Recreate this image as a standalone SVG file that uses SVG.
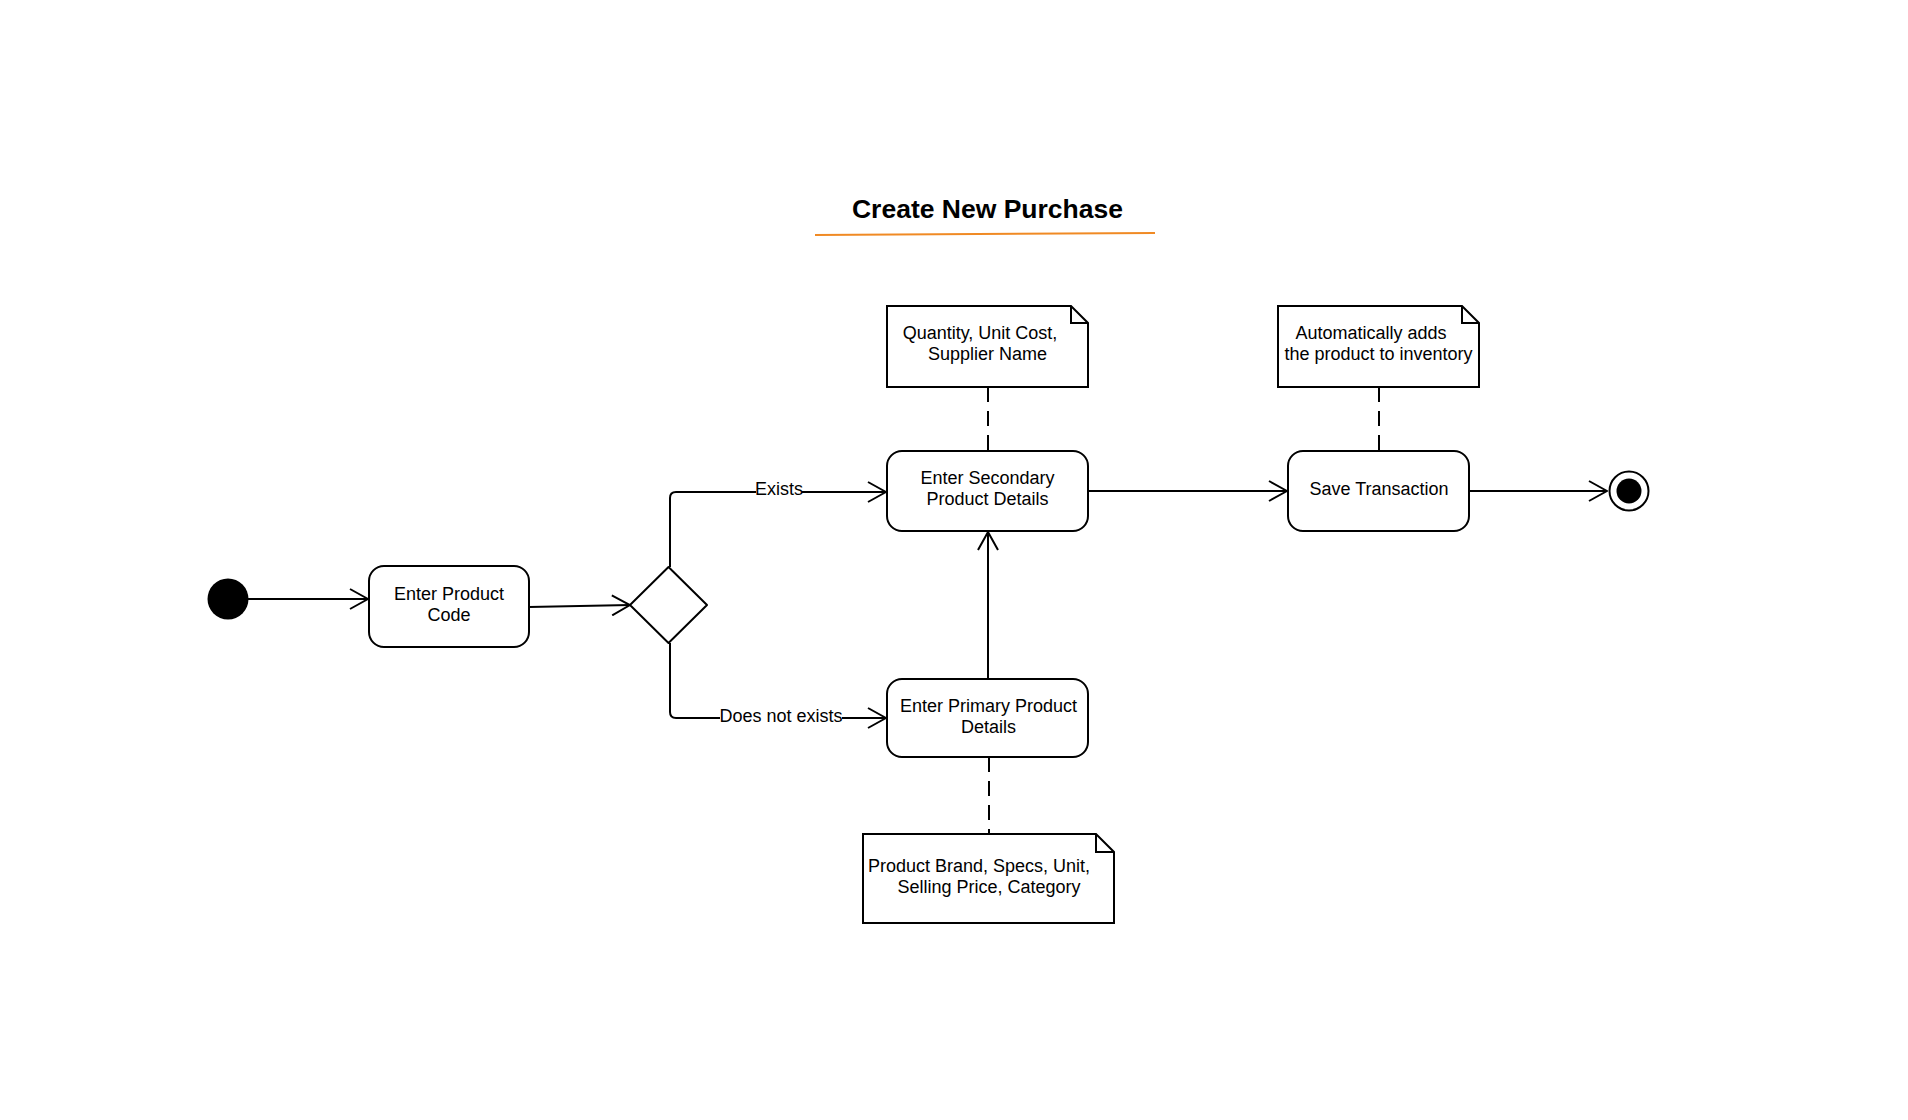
<svg xmlns="http://www.w3.org/2000/svg" width="1908" height="1120" viewBox="0 0 1908 1120">
<style>
.box{fill:#fff;stroke:#000;stroke-width:2}
.t{font-family:"Liberation Sans",Arial,sans-serif;font-size:18px;fill:#000;text-anchor:middle}
.edge{fill:none;stroke:#000;stroke-width:2}
.dash{fill:none;stroke:#000;stroke-width:2;stroke-dasharray:15 9}
</style>
<defs>
<marker id="arr" viewBox="0 0 20 22" refX="19" refY="11" markerWidth="20" markerHeight="22" markerUnits="userSpaceOnUse" orient="auto">
<path d="M1,1 L19,11 L1,21" fill="none" stroke="#000" stroke-width="2"/>
</marker>
</defs>
<rect width="1908" height="1120" fill="#fff"/>
<g id="title">
<text x="987.5" y="218" style="font-family:'Liberation Sans',Arial,sans-serif;font-size:26.5px;font-weight:bold;text-anchor:middle">Create New Purchase</text>
<line x1="815" y1="235" x2="1155" y2="233" stroke="#F08A24" stroke-width="2"/>
</g>
<g id="connectors">
<line class="edge" x1="248" y1="599" x2="368" y2="599" marker-end="url(#arr)"/>
<line class="edge" x1="529" y1="607" x2="630" y2="605" marker-end="url(#arr)"/>
<path class="edge" d="M670,567 V498 Q670,492 676,492 H886" marker-end="url(#arr)"/>
<path class="edge" d="M670,643 V712 Q670,718 676,718 H886" marker-end="url(#arr)"/>
<line class="edge" x1="988" y1="679" x2="988" y2="532" marker-end="url(#arr)"/>
<line class="edge" x1="1088" y1="491" x2="1287" y2="491" marker-end="url(#arr)"/>
<line class="edge" x1="1469" y1="491" x2="1607" y2="491" marker-end="url(#arr)"/>
<line class="dash" x1="988" y1="387" x2="988" y2="451"/>
<line class="dash" x1="1379" y1="387" x2="1379" y2="451"/>
<line class="dash" x1="989" y1="757" x2="989" y2="834"/>
<rect x="756" y="481" width="46" height="20" fill="#fff"/>
<text class="t" x="779" y="494.5">Exists</text>
<rect x="720" y="707" width="122" height="20" fill="#fff"/>
<text class="t" x="781" y="721.5">Does not exists</text>
</g>
<g id="start">
<circle cx="228" cy="599" r="20.5" fill="#000"/>
</g>
<g id="enter-product-code">
<rect class="box" x="369" y="566" width="160" height="81" rx="15"/>
<text class="t" x="449" y="599.5">Enter Product</text>
<text class="t" x="449" y="620.5">Code</text>
</g>
<g id="decision">
<path class="box" d="M668.5,567 L707,605 L668.5,643 L630,605 Z" stroke-linejoin="round"/>
</g>
<g id="enter-secondary">
<rect class="box" x="887" y="451" width="201" height="80" rx="15"/>
<text class="t" x="987.5" y="483.5">Enter Secondary</text>
<text class="t" x="987.5" y="504.5">Product Details</text>
</g>
<g id="enter-primary">
<rect class="box" x="887" y="679" width="201" height="78" rx="15"/>
<text class="t" x="988.5" y="711.5">Enter Primary Product</text>
<text class="t" x="988.5" y="732.5">Details</text>
</g>
<g id="save-transaction">
<rect class="box" x="1288" y="451" width="181" height="80" rx="15"/>
<text class="t" x="1379" y="494.5">Save Transaction</text>
</g>
<g id="end">
<circle cx="1629" cy="491" r="19.5" fill="#fff" stroke="#000" stroke-width="2"/>
<circle cx="1629" cy="491" r="12.5" fill="#000"/>
</g>
<g id="note-secondary">
<path class="box" d="M887,306 H1071 L1088,323 V387 H887 Z"/>
<path class="edge" d="M1071,306 V323 H1088"/>
<text class="t" x="980" y="338.5">Quantity, Unit Cost,</text>
<text class="t" x="987.5" y="359.5">Supplier Name</text>
</g>
<g id="note-save">
<path class="box" d="M1278,306 H1462 L1479,323 V387 H1278 Z"/>
<path class="edge" d="M1462,306 V323 H1479"/>
<text class="t" x="1371" y="338.5">Automatically adds</text>
<text class="t" x="1378.5" y="359.5">the product to inventory</text>
</g>
<g id="note-primary">
<path class="box" d="M863,834 H1096 L1114,852 V923 H863 Z"/>
<path class="edge" d="M1096,834 V852 H1114"/>
<text class="t" x="979" y="871.5">Product Brand, Specs, Unit,</text>
<text class="t" x="989" y="892.5">Selling Price, Category</text>
</g>
</svg>
